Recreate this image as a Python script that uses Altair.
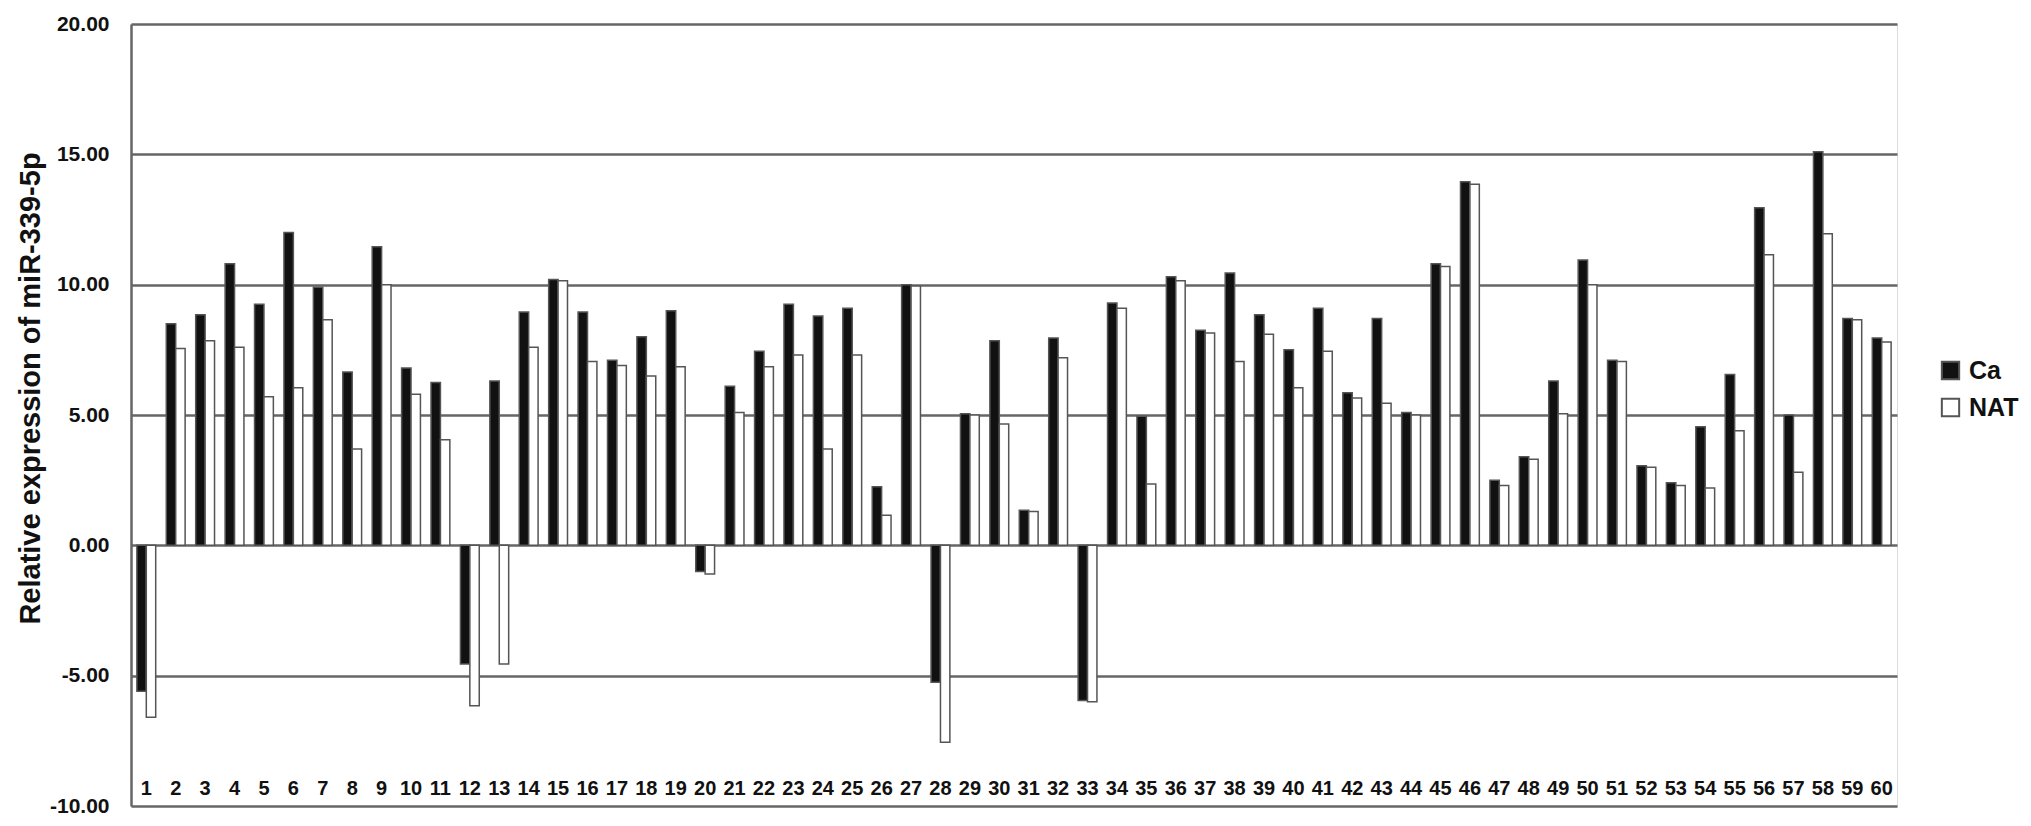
import altair as alt
import pandas as pd

samples = [str(i) for i in range(1, 61)]
ca = [-5.6, 8.5, 8.85, 10.8, 9.25, 12.0, 9.9, 6.65, 11.45, 6.8,
      6.25, -4.55, 6.3, 8.95, 10.2, 8.95, 7.1, 8.0, 9.0, -1.0,
      6.1, 7.45, 9.25, 8.8, 9.1, 2.25, 10.0, -5.25, 5.05, 7.85,
      1.35, 7.95, -5.95, 9.3, 4.95, 10.3, 8.25, 10.45, 8.85, 7.5,
      9.1, 5.85, 8.7, 5.1, 10.8, 13.95, 2.5, 3.4, 6.3, 10.95,
      7.1, 3.05, 2.4, 4.55, 6.55, 12.95, 5.0, 15.1, 8.7, 7.95]
nat = [-6.6, 7.55, 7.85, 7.6, 5.7, 6.05, 8.65, 3.7, 10.0, 5.8,
       4.05, -6.15, -4.55, 7.6, 10.15, 7.05, 6.9, 6.5, 6.85, -1.1,
       5.1, 6.85, 7.3, 3.7, 7.3, 1.15, 9.95, -7.55, 5.0, 4.65,
       1.3, 7.2, -6.0, 9.1, 2.35, 10.15, 8.15, 7.05, 8.1, 6.05,
       7.45, 5.65, 5.45, 5.0, 10.7, 13.85, 2.3, 3.3, 5.05, 10.0,
       7.05, 3.0, 2.3, 2.2, 4.4, 11.15, 2.8, 11.95, 8.65, 7.8]
groups = ["Ca", "NAT"]
y_ticks = [-10, -5, 0, 5, 10, 15, 20]

rows = []
for s, a, b in zip(samples, ca, nat):
    rows.append({"Sample": s, "Group": groups[0], "Value": a})
    rows.append({"Sample": s, "Group": groups[1], "Value": b})
df = pd.DataFrame(rows)

bold = "Liberation Sans, Arial, Helvetica, sans-serif"

bars = alt.Chart(df).mark_bar(stroke="#555", strokeWidth=1.5).encode(
    x=alt.X("Sample:N", sort=samples,
            scale=alt.Scale(paddingInner=0.36),
            axis=alt.Axis(title=None, labelAngle=0, ticks=False, tickSize=0, domain=False,
                          labelFont=bold, labelFontWeight="bold", labelFontSize=20,
                          labelColor="#111", labelBaseline="middle", labelPadding=-18,
                          grid=False)),
    xOffset=alt.XOffset("Group:N", sort=groups),
    y=alt.Y("Value:Q",
            scale=alt.Scale(domain=[-10, 20], nice=False, zero=False),
            axis=alt.Axis(values=y_ticks,
                          labelExpr="(datum.value < 0 ? '-' : '') + format(abs(datum.value), '.2f')",
                          title="Relative expression of miR-339-5p",
                          titleFont=bold, titleFontWeight="bold", titleFontSize=29, titleColor="#111",
                          titleAngle=270, titleAlign="center", titleBaseline="middle",
                          titleX=-101, titleY=364,
                          labelFont=bold, labelFontWeight="bold", labelFontSize=21,
                          labelColor="#111", labelPadding=22, ticks=False,
                          domain=True, domainColor="#666", domainWidth=2.5,
                          grid=True, gridColor="#666", gridWidth=2.5)),
    fill=alt.Fill("Group:N", sort=groups,
                  scale=alt.Scale(domain=groups, range=["#111111", "#ffffff"]),
                  legend=alt.Legend(title=None, orient="none", legendX=1807, legendY=334,
                                    symbolType="square", symbolSize=300,
                                    symbolStrokeColor="#555", symbolStrokeWidth=2,
                                    labelFont=bold, labelFontWeight="bold", labelFontSize=25,
                                    labelColor="#111", labelOffset=6, rowPadding=10)),
)

chart = bars.properties(
    width=1766, height=782,
    autosize=alt.AutoSizeParams(type="none"),
    padding={"left": 123, "top": 16, "right": 126, "bottom": 12},
).configure_view(stroke=None).configure(background="white")

chart.save("out.html", embed_options={"renderer": "svg", "actions": False})
